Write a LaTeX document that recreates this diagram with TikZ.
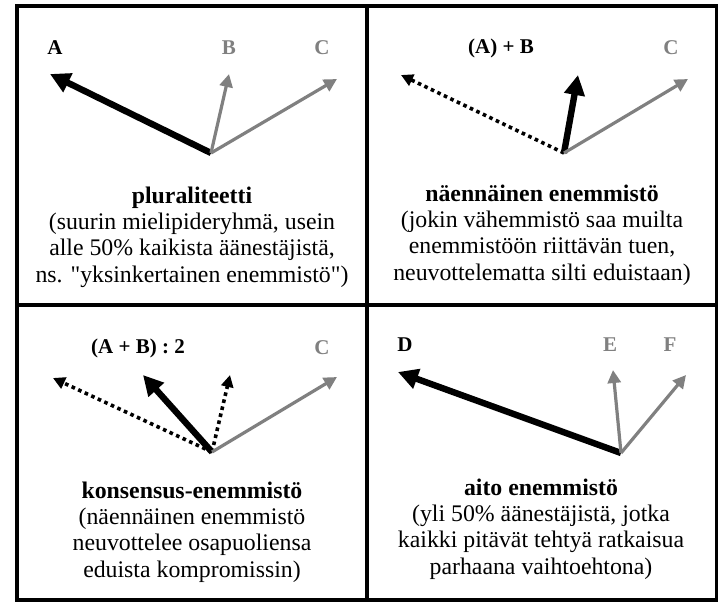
\documentclass[tikz,border=0pt]{standalone}
\usepackage{fontspec}
\setmainfont{Liberation Serif}
\newfontfamily\plainquote{Liberation Serif}
\usepackage{xcolor}
\usetikzlibrary{arrows.meta}
\definecolor{votegray}{RGB}{128,128,128}
\newcommand{\sq}{{\plainquote"}}

\begin{document}
\begin{tikzpicture}[
    x=0.5pt, y=-0.5pt,
    frame/.style={line width=2pt},
    major/.style={-{Triangle[length=10pt,width=10pt]}, line width=3.2pt},
    minor/.style={-{Triangle[length=6.5pt,width=6.5pt]}, line width=1.6pt, votegray},
    ghost/.style={-{Triangle[length=6pt,width=6pt]}, line width=1.8pt, dash pattern=on 1.8pt off 1.8pt},
    votelab/.style={font=\fontsize{10.5}{11}\selectfont\bfseries},
    capbox/.style={align=center, font=\fontsize{11.9}{13.1}\selectfont}
]
  \useasboundingbox (0,0) rectangle (718,602);

  % frame
  \draw[frame] (17,6) rectangle (716.5,600);
  \draw[frame] (367,6) -- (367,600);
  \draw[frame] (17,304.5) -- (716.5,304.5);

  % pluraliteetti
  \coordinate (o1) at (211,153);
  \coordinate (a1) at (50,74);
  \coordinate (b1) at (229,74);
  \coordinate (c1) at (337,79);
  \draw[major] (o1) -- (a1);
  \draw[minor] (o1) -- (b1);
  \draw[minor] (o1) -- (c1);
  \node[votelab] (la1) at (55,48) {A};
  \node[votelab, votegray] (lb1) at (229,48) {B};
  \node[votelab, votegray] (lc1) at (322,48) {C};
  \node[capbox] (cap1) at (192,237) {\textbf{pluraliteetti}\\(suurin mielipideryhmä, usein\\alle 50\% kaikista äänestäjistä,\\ns. \sq yksinkertainen enemmistö\sq)};

  % naennainen enemmisto
  \coordinate (o2) at (564,153);
  \coordinate (a2) at (401,75);
  \coordinate (b2) at (578,75);
  \coordinate (c2) at (688,79);
  \draw[ghost] (o2) -- (a2);
  \draw[major] (o2) -- (b2);
  \draw[minor] (o2) -- (c2);
  \node[votelab] (lab2) at (501,48) {(A) + B};
  \node[votelab, votegray] (lc2) at (671,48) {C};
  \node[capbox] (cap2) at (542,235) {\textbf{näennäinen enemmistö}\\(jokin vähemmistö saa muilta\\enemmistöön riittävän tuen,\\neuvottelematta silti eduistaan)};

  % konsensus-enemmisto
  \coordinate (o3) at (212,452);
  \coordinate (a3) at (53,378);
  \coordinate (m3) at (143,375);
  \coordinate (b3) at (230,375);
  \coordinate (c3) at (337,377);
  \draw[ghost] (o3) -- (a3);
  \draw[ghost] (o3) -- (b3);
  \draw[major] (o3) -- (m3);
  \draw[minor] (o3) -- (c3);
  \node[votelab] (lab3) at (138,348) {(A + B) : 2};
  \node[votelab, votegray] (lc3) at (322,348) {C};
  \node[capbox] (cap3) at (192,532) {\textbf{konsensus-enemmistö}\\(näennäinen enemmistö\\neuvottelee osapuoliensa\\eduista kompromissin)};

  % aito enemmisto
  \coordinate (o4) at (621,453);
  \coordinate (d4) at (398,372);
  \coordinate (e4) at (613,370);
  \coordinate (f4) at (686,375);
  \draw[major] (o4) -- (d4);
  \draw[minor] (o4) -- (e4);
  \draw[minor] (o4) -- (f4);
  \node[votelab] (ld4) at (405,345) {D};
  \node[votelab, votegray] (le4) at (610,345) {E};
  \node[votelab, votegray] (lf4) at (670,345) {F};
  \node[capbox] (cap4) at (541,529) {\textbf{aito enemmistö}\\(yli 50\% äänestäjistä, jotka\\kaikki pitävät tehtyä ratkaisua\\parhaana vaihtoehtona)};
\end{tikzpicture}
\end{document}
